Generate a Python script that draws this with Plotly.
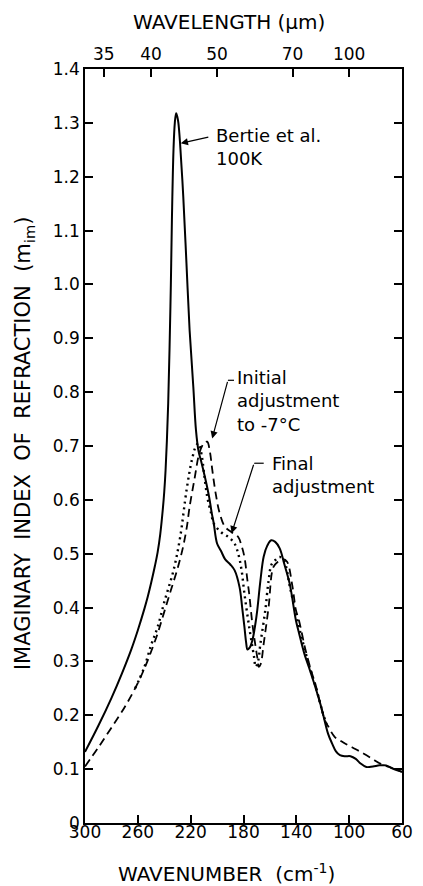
import plotly.graph_objects as go

# ---- data ----
# Bertie et al. 100K (solid)
bertie_wn = [300, 290, 280, 272, 265, 260, 255, 252.5, 250, 247, 245, 243, 241, 240, 239, 238, 237, 236,
             235, 234.2, 233, 232, 231, 230, 229.3, 228.1, 225.6, 223.2, 220.8, 218, 216, 214, 212.2, 209,
             206, 204, 202.5, 200, 197, 194, 190, 186.7, 183, 181, 179.3, 178, 177, 175.5, 173.3, 171, 169.6,
             167.2, 164.7, 162, 159, 156, 152.6, 149, 145, 140.3, 137.9, 134, 130.6, 125.7, 121, 116, 113,
             110, 107, 103, 99, 95, 91.6, 87, 82, 77, 72, 67, 60]
bertie_m = [0.132, 0.18, 0.232, 0.278, 0.322, 0.358, 0.398, 0.42, 0.445, 0.478, 0.503, 0.537, 0.585, 0.615, 0.655,
            0.71, 0.78, 0.88, 1.0, 1.12, 1.25, 1.30, 1.318, 1.31, 1.30, 1.265, 1.163, 1.04, 0.915, 0.81,
            0.73, 0.69, 0.673, 0.64, 0.605, 0.575, 0.556, 0.519, 0.505, 0.49, 0.48, 0.469, 0.438, 0.40, 0.364,
            0.335, 0.322, 0.325, 0.339, 0.37, 0.395, 0.45, 0.495, 0.515, 0.525, 0.522, 0.51, 0.48, 0.444, 0.376,
            0.352, 0.315, 0.29, 0.253, 0.214, 0.166, 0.148, 0.133, 0.126, 0.124, 0.124, 0.119, 0.111, 0.104,
            0.105, 0.107, 0.107, 0.101, 0.095]

# Initial adjustment to -7 C (dashed)
initial_wn = [300, 290, 280, 270, 261, 255, 250, 245, 240, 235, 230, 226, 223, 220.8, 217, 213.5, 210,
              207.5, 205.5, 203.6, 201, 198, 194, 189, 184, 181.5, 179.3, 177, 175.7, 173.3, 171, 169.6,
              168.4, 167, 164.7, 161, 157.4, 154, 150, 147, 143, 140.3, 138, 133, 128.2, 125.7, 118.4,
              116, 111, 106, 101.3, 95, 89.2, 83, 77, 69.7, 60]
initial_m = [0.105, 0.14, 0.177, 0.215, 0.255, 0.287, 0.318, 0.352, 0.392, 0.432, 0.472, 0.51, 0.548, 0.587, 0.64,
             0.686, 0.705, 0.708, 0.69, 0.655, 0.611, 0.575, 0.55, 0.54, 0.531, 0.515, 0.494, 0.45, 0.426, 0.37,
             0.33, 0.308, 0.29, 0.295, 0.333, 0.401, 0.475, 0.485, 0.49, 0.485, 0.44, 0.395, 0.376, 0.321, 0.278,
             0.259, 0.191, 0.18, 0.16, 0.152, 0.145, 0.137, 0.129, 0.12, 0.111, 0.104, 0.095]

# Final adjustment (dotted)
final_wn = [262, 255, 250, 245, 240, 233, 228, 223, 219, 216, 214, 211.5, 209.8, 207.4, 204.5, 202.5,
            197, 191.5, 187, 184, 181.5, 179.3, 175.7, 172, 170.8, 169, 167.2, 163.5, 161, 158.6, 155,
            152.5, 149, 145, 140, 135, 130, 125, 120, 116]
final_m = [0.25, 0.29, 0.33, 0.364, 0.41, 0.469, 0.53, 0.62, 0.675, 0.70, 0.705, 0.68, 0.648, 0.605, 0.575, 0.556,
           0.54, 0.531, 0.52, 0.50, 0.47, 0.426, 0.364, 0.308, 0.29, 0.30, 0.333, 0.395, 0.45, 0.481, 0.49,
           0.494, 0.485, 0.44, 0.385, 0.335, 0.29, 0.25, 0.205, 0.175]

x_ticks = [300, 260, 220, 180, 140, 100, 60]
y_ticks = [0, 0.1, 0.2, 0.3, 0.4, 0.5, 0.6, 0.7, 0.8, 0.9, 1.0, 1.1, 1.2, 1.3, 1.4]
y_ticktext = ["0", "0.1", "0.2", "0.3", "0.4", "0.5", "0.6", "0.7", "0.8", "0.9", "1.0", "1.1", "1.2", "1.3", "1.4"]
wavelength_ticks = [35, 40, 50, 70, 100]

FONT = "DejaVu Sans"
NB = "\u00a0"
fig = go.Figure()
fig.add_trace(go.Scatter(x=bertie_wn, y=bertie_m, mode="lines",
                         line=dict(color="black", width=2), line_shape="spline", hoverinfo="skip"))
fig.add_trace(go.Scatter(x=initial_wn, y=initial_m, mode="lines",
                         line=dict(color="black", width=1.8, dash="8px,5px"), line_shape="spline", hoverinfo="skip"))
fig.add_trace(go.Scatter(x=final_wn, y=final_m, mode="lines",
                         line=dict(color="black", width=2.4, dash="2px,4px"), line_shape="spline", hoverinfo="skip"))
fig.add_trace(go.Scatter(x=[], y=[], xaxis="x2", showlegend=False))

ax_common = dict(showline=True, linecolor="black", linewidth=1.5, ticks="inside", ticklen=8,
                 tickcolor="black", tickwidth=1.5, showgrid=False, zeroline=False,
                 tickfont=dict(family=FONT, size=17, color="black"))

fig.update_layout(
    width=423, height=886,
    margin=dict(l=85, r=10, t=69, b=63),
    paper_bgcolor="white", plot_bgcolor="white",
    showlegend=False,
    xaxis=dict(range=[300, 60], tickvals=x_ticks, ticktext=[str(v) for v in x_ticks],
               ticklabelstandoff=-7, **ax_common),
    xaxis2=dict(range=[300, 60], overlaying="x", side="top",
                tickvals=[10000 / w for w in wavelength_ticks], ticktext=[str(w) for w in wavelength_ticks],
                ticklabelstandoff=0, **ax_common),
    yaxis=dict(range=[0, 1.4], tickvals=y_ticks, ticktext=y_ticktext, mirror="ticks", **ax_common),
)

tfont = dict(family=FONT, size=18, color="black")
ann = []
ann.append(dict(text="WAVENUMBER" + NB + NB + "(cm<sup>-1</sup>)", xref="paper", yref="paper", x=0.447, y=-0.066,
                xanchor="center", yanchor="middle", showarrow=False, font=dict(family=FONT, size=20, color="black")))
ann.append(dict(text="WAVELENGTH (\u03bcm)", xref="paper", yref="paper", x=0.454, y=1.062,
                xanchor="center", yanchor="middle", showarrow=False, font=dict(family=FONT, size=20, color="black")))
ann.append(dict(text=("IMAGINARY" + NB + NB + "INDEX" + NB + NB + "OF" + NB + NB + "REFRACTION" + NB + NB
                      + "(m<sub>im</sub>)"), xref="paper", yref="paper",
                x=-0.192, y=0.504, xanchor="center", yanchor="middle", textangle=-90, showarrow=False,
                font=dict(family=FONT, size=21, color="black")))
# label texts
ann.append(dict(text="Bertie et al.<br>100K", x=202.5, y=1.256, xref="x", yref="y", xanchor="left",
                yanchor="middle", align="left", showarrow=False, font=tfont))
ann.append(dict(text="Initial<br>adjustment<br>to -7\u00b0C", x=186.3, y=0.85, xref="x", yref="y", xanchor="left",
                yanchor="top", align="left", showarrow=False, font=tfont))
ann.append(dict(text="Final<br>adjustment", x=159.6, y=0.69, xref="x", yref="y", xanchor="left",
                yanchor="top", align="left", showarrow=False, font=tfont))
# arrows
ann.append(dict(text="", x=227.5, y=1.262, ax=205.5, ay=1.274, xref="x", yref="y", axref="x", ayref="y",
                showarrow=True, arrowhead=2, arrowsize=1.2, arrowwidth=1.2, arrowcolor="black"))
ann.append(dict(text="", x=203.7, y=0.714, ax=191.8, ay=0.822, xref="x", yref="y", axref="x", ayref="y",
                showarrow=True, arrowhead=2, arrowsize=1.2, arrowwidth=1.2, arrowcolor="black"))
ann.append(dict(text="", x=189, y=0.538, ax=172, ay=0.668, xref="x", yref="y", axref="x", ayref="y",
                showarrow=True, arrowhead=2, arrowsize=1.2, arrowwidth=1.2, arrowcolor="black"))
fig.update_layout(annotations=ann)
fig.add_shape(type="line", x0=191.8, y0=0.822, x1=187.2, y1=0.822, xref="x", yref="y", line=dict(color="black", width=1.2))
fig.add_shape(type="line", x0=172, y0=0.668, x1=164.7, y1=0.668, xref="x", yref="y", line=dict(color="black", width=1.2))

fig.write_html("out.html")
